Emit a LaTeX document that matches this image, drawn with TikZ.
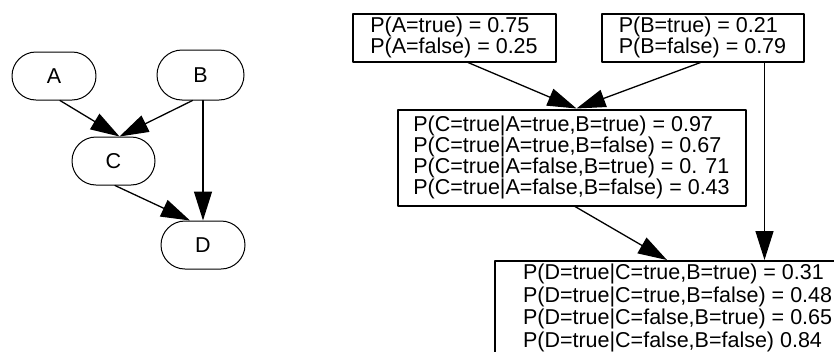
\documentclass[tikz,border=0pt]{standalone}
\usepackage{fontspec}
\setmainfont{Liberation Sans}
\usetikzlibrary{arrows.meta,shapes.misc}
\begin{document}
\begin{tikzpicture}[x=1pt, y=-1pt, line cap=round, line join=round, >={Triangle[length=29pt,width=18pt]}]
	\tikzset{var/.style={draw, line width=1pt, rounded rectangle, minimum width=84pt, minimum height=48pt, inner sep=0pt, font=\fontsize{21.5}{21}\selectfont},
		cpt/.style={draw, line width=2pt, align=left, inner sep=0pt, font=\fontsize{21.5}{21.3}\selectfont},
		edge/.style={->, line width=1.3pt}}
	\useasboundingbox (0,0) rectangle (834,351);
	\clip (0,0) rectangle (834,351);
	% the network
	\node[var] (a) at (54,76) {A};
	\node[var, minimum width=87pt, minimum height=50pt] (b) at (200.5,75) {B};
	\node[var, minimum width=83pt] (c) at (113.5,161) {C};
	\node[var] (d) at (203,245) {D};
	\draw[edge] ([xshift=6pt]a.south) -- ([xshift=6pt]c.north);
	\draw[edge] ([xshift=-8pt]b.south) -- ([xshift=6pt]c.north);
	\draw[edge] (d.north |- b.south) -- (d.north);
	\draw[edge] ([xshift=1.5pt]c.south) -- ([xshift=-13pt]d.north);
	% the tables
	\node[cpt, minimum width=203pt, minimum height=48pt] (ta) at (454,37.5) {P(A=true) = 0.75\\P(A=false) = 0.25};
	\node[cpt, minimum width=202pt, minimum height=48pt] (tb) at (702.5,37.5) {P(B=true) = 0.21\\P(B=false) = 0.79};
	\node[cpt, minimum width=348pt, minimum height=96pt] (tc) at (571.5,157.5) {P(C=true|A=true,B=true) = 0.97\\P(C=true|A=true,B=false) = 0.67\\P(C=true|A=false,B=true) = 0. 71\\P(C=true|A=false,B=false) = 0.43};
	\node[cpt, anchor=north west, inner xsep=28pt, inner ysep=3pt, font=\fontsize{21.5}{22.7}\selectfont] (td) at (494,260) {P(D=true|C=true,B=true) = 0.31\\P(D=true|C=true,B=false) = 0.48\\P(D=true|C=false,B=true) = 0.65\\P(D=true|C=false,B=false) 0.84};
	\draw[edge] ([xshift=14pt]ta.south) -- ([xshift=5pt]tc.north);
	\draw[edge] ([xshift=-2pt]tb.south) -- ([xshift=5pt]tc.north);
	\draw[edge] ([xshift=62pt]tb.south) -- ([xshift=62pt]tb.south |- td.north);
	\draw[edge] ([xshift=3.5pt]tc.south) -- ([xshift=173pt]td.north west);
\end{tikzpicture}
\end{document}
